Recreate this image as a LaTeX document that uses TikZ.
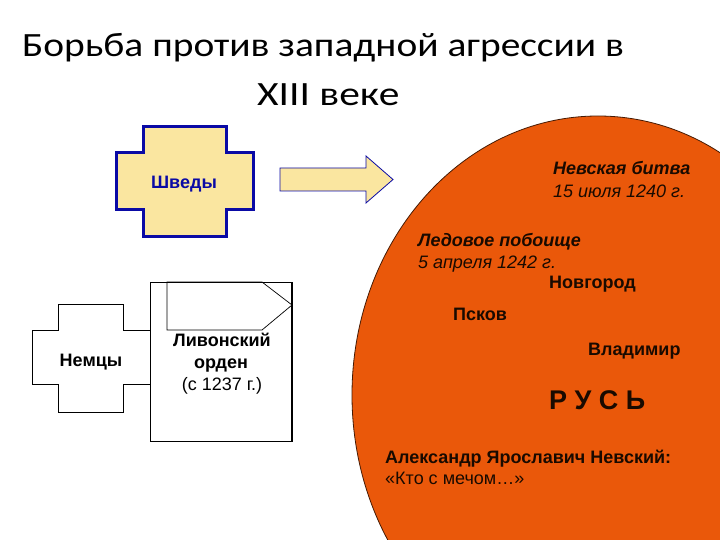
\documentclass[tikz,border=0pt]{standalone}
\usepackage{fontspec}
\setmainfont{Liberation Sans}
\newfontfamily\titlefont{Carlito}
\definecolor{rusorange}{RGB}{234,88,10}
\definecolor{paleyellow}{RGB}{250,230,160}
\definecolor{swblue}{RGB}{10,10,165}
\definecolor{darktext}{RGB}{25,10,0}
\tikzset{
  lbl/.style={inner sep=0pt, anchor=base west, text=darktext, font=\fontsize{18}{20}\selectfont},
  lblb/.style={lbl, font=\fontsize{18}{20}\selectfont\bfseries},
  lblbi/.style={lbl, font=\fontsize{18}{20}\selectfont\bfseries\itshape},
  lbli/.style={lbl, font=\fontsize{18}{20}\selectfont\itshape},
  ttl/.style={inner sep=0pt, anchor=base west, font=\fontsize{34}{36}\selectfont\titlefont},
  ctr/.style={inner sep=0pt, anchor=base, font=\fontsize{18}{20}\selectfont\bfseries},
}
\begin{document}
\begin{tikzpicture}[x=1pt,y=-1pt]
\useasboundingbox (0,0) rectangle (720,540);
\clip (0,0) rectangle (720,540);
\fill[white] (0,0) rectangle (720,540);
% Rus ellipse
\filldraw[fill=rusorange, draw=black!70!rusorange, line width=0.8pt] (598,395) ellipse [x radius=246, y radius=279];
% Title
\node[ttl] (t1) at (22,57) {\scalebox{1.16}[1]{Борьба против западной агрессии в}};
\node[ttl] (t2) at (257,106) {\scalebox{1.22}[1]{XIII веке}};
% Swedes cross
\filldraw[fill=paleyellow, draw=swblue, line width=3pt, line join=miter]
  (143,127) -- (226,127) -- (226,153) -- (253,153) -- (253,210) -- (226,210) -- (226,236)
  -- (143,236) -- (143,210) -- (116,210) -- (116,153) -- (143,153) -- cycle;
\node[ctr, text=swblue] (shv) at (184,189) {Шведы};
% block arrow
\filldraw[fill=paleyellow, draw=swblue, line width=0.8pt, line join=miter]
  (280,168) -- (366,168) -- (366,156) -- (393,179.5) -- (366,203) -- (366,191) -- (280,191) -- cycle;
% Germans cross
\filldraw[fill=white, draw=black, line width=0.9pt, line join=miter]
  (58,304) -- (123,304) -- (123,330) -- (150,330) -- (150,384) -- (123,384) -- (123,412)
  -- (58,412) -- (58,384) -- (32,384) -- (32,330) -- (58,330) -- cycle;
\node[ctr, text=black] (nem) at (91,366) {Немцы};
% Livonian order box
\draw[black, line width=0.9pt] (150,282) rectangle (292,441);
\draw[black, line width=1.6pt] (292,282) -- (292,441);
\draw[black, line width=0.7pt, line join=miter] (167,282) -- (262,282) -- (292,305) -- (262,330) -- (167,330) -- cycle;
\node[ctr, text=black] (liv1) at (222,346) {Ливонский};
\node[ctr, text=black] (liv2) at (221,368) {орден};
\node[inner sep=0pt, anchor=base, font=\fontsize{18}{20}\selectfont] (liv3) at (222,390) {(с 1237 г.)};
% texts in Rus
\node[lblbi] (nev1) at (553,175) {Невская битва};
\node[lbli] (nev2) at (553,197) {15 июля 1240 г.};
\node[lblbi] (led1) at (418,246) {Ледовое побоище};
\node[lbli] (led2) at (418,268) {5 апреля 1242 г.};
\node[lblb] (nov) at (549,288) {Новгород};
\node[lblb] (psk) at (453,320) {Псков};
\node[lblb] (vla) at (588,355) {Владимир};
\node[lbl, font=\fontsize{27}{30}\selectfont\bfseries] (rus) at (549,409) {Р У С Ь};
\node[lblb] (alx) at (385,463) {Александр Ярославич Невский:};
\node[lbl] (quo) at (385,484) {«Кто с мечом…»};
\end{tikzpicture}
\end{document}
